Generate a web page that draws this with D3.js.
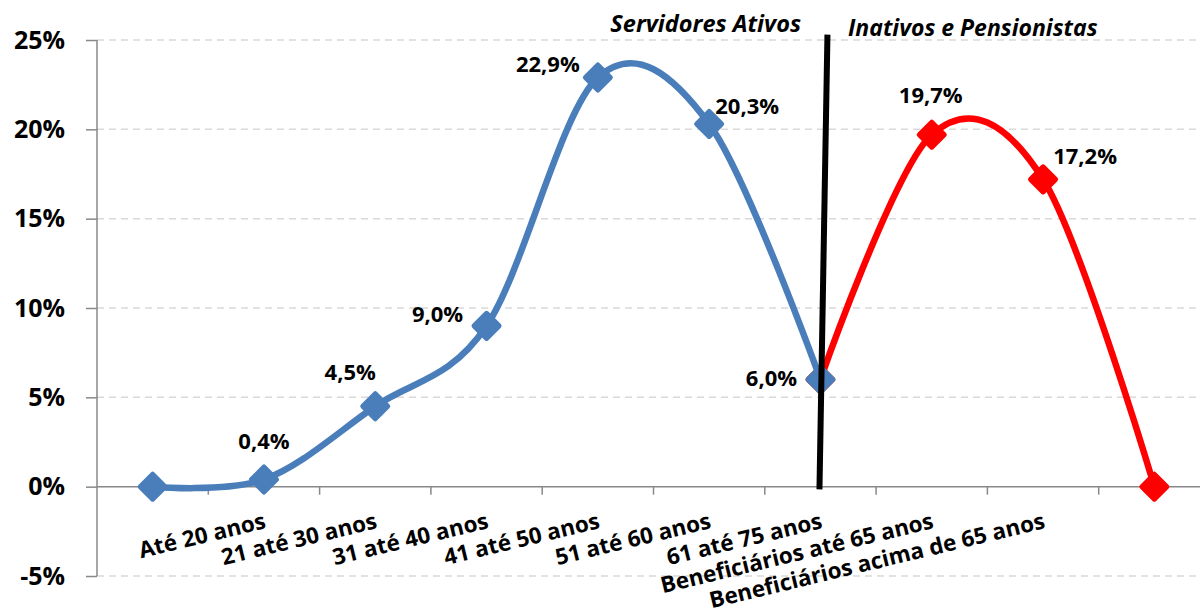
<!DOCTYPE html>
<html>
<head>
<meta charset="utf-8">
<script src="https://cdn.jsdelivr.net/npm/d3@7"></script>
<style>
  body { margin: 0; background: #fff; }
  svg { display: block; font-family: "Open Sans", sans-serif; font-weight: bold; }
</style>
</head>
<body>
<div id="chart"></div>
<script>
// categories (first and last are blank slots in the original sheet)
var categories = ["", "Até 20 anos", "21 até 30 anos", "31 até 40 anos", "41 até 50 anos",
    "51 até 60 anos", "61 até 75 anos", "Beneficiários até 65 anos",
    "Beneficiários acima de 65 anos", ""];
var ativos = [0, 0.4, 4.5, 9.0, 22.9, 20.3, 6.0, null, null, null];
var inativos = [null, null, null, null, null, null, 6.0, 19.7, 17.2, 0];
var yTicks = [-5, 0, 5, 10, 15, 20, 25];
var annotations = ["Servidores Ativos", "Inativos e Pensionistas"];

// where each data label sits relative to its point
var labelDx = [0, 0, -25, -49, -50, 38, -49, -1, 42, 0];
var labelDy = [0, -31, -26, -4, -6, -10, 7, -32, -15, 0];

var width = 1200, height = 615;
var left = 97, step = 111.3;

var svg = d3.select("#chart").append("svg")
    .attr("width", width)
    .attr("height", height);

var x = d3.scaleBand()
    .domain(d3.range(categories.length))
    .range([left, left + step * categories.length])
    .padding(0);
var cx = function (i) { return x(i) + x.bandwidth() / 2; };

var y = d3.scaleLinear()
    .domain([-5, 25])
    .range([576, 40]);

// grid
svg.append("g")
    .selectAll("line")
    .data(yTicks.filter(function (d) { return d != 0; }))
    .enter()
    .append("line")
    .attr("x1", left)
    .attr("x2", width)
    .attr("y1", function (d) { return y(d); })
    .attr("y2", function (d) { return y(d); })
    .attr("stroke", "#d9d9d9")
    .attr("stroke-width", 1.5)
    .style("stroke-dasharray", "7,5");

// y axis
var yAxis = svg.append("g")
    .attr("transform", "translate(" + left + ",0)")
    .call(d3.axisLeft(y).tickValues(yTicks).tickSize(11).tickPadding(21)
        .tickFormat(function (d) { return d + "%"; }));
yAxis.select(".domain").attr("stroke", "#888").attr("stroke-width", 1.5)
    .attr("d", "M0," + y(25) + "V" + y(-5));
yAxis.selectAll(".tick line").attr("stroke", "#888").attr("stroke-width", 1.5);
yAxis.selectAll(".tick text")
    .style("font-family", "Open Sans")
    .style("font-weight", "bold")
    .style("font-size", "25px")
    .attr("fill", "#000");

// x axis (ticks between categories)
svg.append("line")
    .attr("x1", left).attr("x2", width)
    .attr("y1", y(0)).attr("y2", y(0))
    .attr("stroke", "#888").attr("stroke-width", 1.5);
svg.append("g")
    .selectAll("line")
    .data(d3.range(1, categories.length))
    .enter()
    .append("line")
    .attr("x1", function (d) { return x(d); })
    .attr("x2", function (d) { return x(d); })
    .attr("y1", y(0))
    .attr("y2", y(0) + 8)
    .attr("stroke", "#888").attr("stroke-width", 1.5);

svg.append("g")
    .selectAll("text")
    .data(categories)
    .enter()
    .append("text")
    .attr("transform", function (d, i) { return "translate(" + (cx(i) + 3) + ",528) rotate(-13.5)"; })
    .attr("text-anchor", "end")
    .style("font-size", "22.5px")
    .text(function (d) { return d; });

// series
var line = d3.line()
    .defined(function (d) { return d != null; })
    .x(function (d, i) { return cx(i); })
    .y(function (d) { return y(d); })
    .curve(d3.curveCardinal.tension(0));

var diamond = function (r) {
    return "M0," + (-r) + "L" + r + ",0L0," + r + "L" + (-r) + ",0Z";
};

var drawSeries = function (values, color) {
    svg.append("path")
        .datum(values)
        .attr("d", line)
        .attr("fill", "none")
        .attr("stroke", color)
        .attr("stroke-width", 6.5);

    svg.append("g")
        .selectAll("path")
        .data(values.map(function (v, i) { return { v: v, i: i }; })
            .filter(function (d) { return d.v != null; }))
        .enter()
        .append("path")
        .attr("transform", function (d) { return "translate(" + cx(d.i) + "," + y(d.v) + ")"; })
        .attr("d", diamond(12.5))
        .attr("fill", color)
        .attr("stroke", color)
        .attr("stroke-width", 5)
        .attr("stroke-linejoin", "round");
};

drawSeries(inativos, "#ff0000");
drawSeries(ativos, "#4a7ebb");

// data labels
var fmt = function (v) { return d3.format(".1f")(v).replace(".", ",") + "%"; };
var all = categories.map(function (c, i) {
    return { i: i, v: ativos[i] != null ? ativos[i] : inativos[i], c: c };
}).filter(function (d) { return d.c != ""; });

svg.append("g")
    .selectAll("text")
    .data(all)
    .enter()
    .append("text")
    .attr("x", function (d) { return cx(d.i) + labelDx[d.i]; })
    .attr("y", function (d) { return y(d.v) + labelDy[d.i]; })
    .attr("text-anchor", "middle")
    .style("font-size", "22px")
    .text(function (d) { return fmt(d.v); });

// divider between the two groups
svg.append("line")
    .attr("x1", cx(6) + 7).attr("y1", y(25.3))
    .attr("x2", cx(6) - 1).attr("y2", y(-0.15))
    .attr("stroke", "#000")
    .attr("stroke-width", 6);

svg.append("text")
    .attr("x", 801).attr("y", 32)
    .attr("text-anchor", "end")
    .style("font-style", "italic")
    .style("font-size", "23.5px")
    .text(annotations[0]);

svg.append("text")
    .attr("x", 848).attr("y", 36)
    .attr("text-anchor", "start")
    .style("font-style", "italic")
    .style("font-size", "23px")
    .text(annotations[1]);
</script>
</body>
</html>
